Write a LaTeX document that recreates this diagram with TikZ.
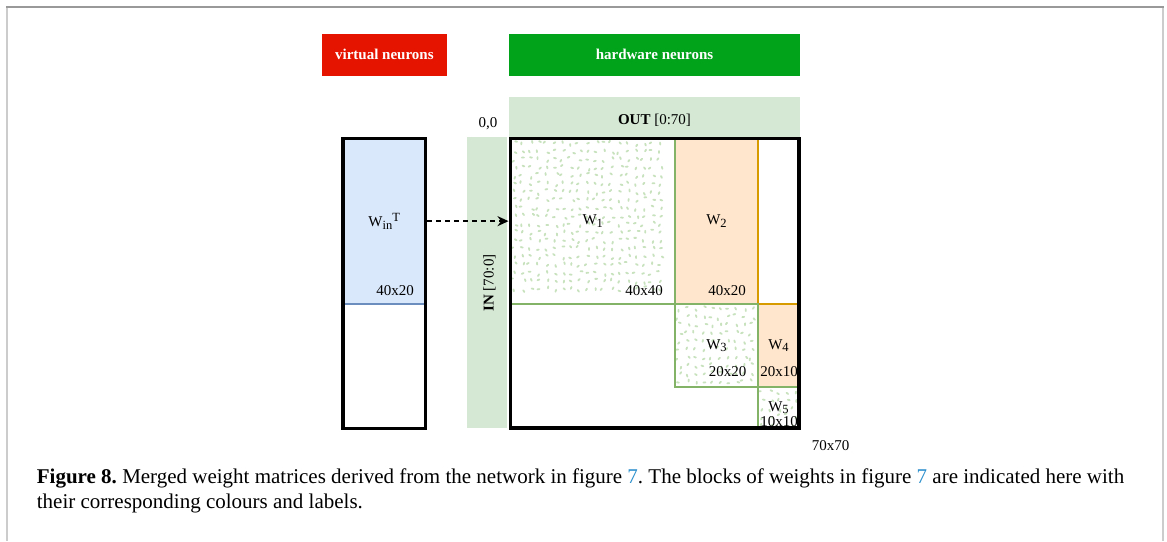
\documentclass[tikz,border=0pt]{standalone}
\usepackage{fontspec}
\setmainfont{Liberation Serif}
\usepackage{xcolor}
\usepackage{tikz}
\usetikzlibrary{arrows.meta,calc,positioning}
\definecolor{virtred}{HTML}{E51400}
\definecolor{hwgreen}{HTML}{00A31A}
\definecolor{bandfill}{HTML}{D5E8D4}
\definecolor{peachfill}{HTML}{FFE6CC}
\definecolor{peachline}{HTML}{D79B00}
\definecolor{blockline}{HTML}{82B366}
\definecolor{infill}{HTML}{DAE8FC}
\definecolor{inline}{HTML}{6C8EBF}
\definecolor{dotcol}{HTML}{C8E2BE}
\definecolor{refblue}{HTML}{2B8FCC}
\definecolor{framegray}{HTML}{999999}
\definecolor{sidegray}{HTML}{CCCCCC}
\tikzset{
  headbox/.style={
    inner sep=0pt, outer sep=0pt, anchor=north west,
    text=white, font=\fontsize{15}{18}\selectfont\bfseries
  },
  band/.style={fill=bandfill, inner sep=0pt, outer sep=0pt, anchor=north west},
  block/.style={inner sep=0pt, outer sep=0pt, anchor=north west,
    font=\fontsize{15}{18}\selectfont},
  matframe/.style={draw=black, line width=3.6pt, inner sep=0pt, outer sep=0pt,
    anchor=north west},
  edgeline/.style={line width=1.8pt},
  dimlabel/.style={font=\fontsize{15}{18}\selectfont, inner sep=0pt},
  dotmark/.style={draw=dotcol, line width=1.8pt, line cap=round},
  feed/.style={line width=1.8pt, dash pattern=on 5pt off 4pt,
    -{Stealth[length=11pt,width=10pt]}},
  capline/.style={font=\fontsize{21}{25}\selectfont\frenchspacing, anchor=base west, inner sep=0pt}
}
% draw.io style sub- and superscripts
\newcommand{\wsub}[1]{\raisebox{-0.4ex}{\fontsize{12.5}{13}\selectfont #1}}
\newcommand{\wsup}[1]{\raisebox{0.75ex}{\fontsize{12.5}{13}\selectfont #1}}
\newcommand{\dotfield}[4]{%
  \foreach \gx in {1,...,#3}{
    \foreach \gy in {1,...,#4}{
      \pgfmathsetmacro{\px}{#1+\gx*8.1-4+rand*2.2}
      \pgfmathsetmacro{\py}{#2+\gy*8.1-4+rand*2.2}
      \pgfmathsetmacro{\pa}{rnd*180}
      \draw[dotmark] (\px,\py) -- ++(\pa:2);
    }
  }
}

\begin{document}
\begin{tikzpicture}[x=1pt,y=-1pt]
\useasboundingbox (0,0) rectangle (1167,541);
\fill[white] (0,0) rectangle (1167,541);
\pgfmathsetseed{42}

% page frame
\draw[sidegray, line width=2pt] (7,7) -- (7,541);
\draw[sidegray, line width=2pt] (1163.3,7) -- (1163.3,541);
\draw[framegray, line width=2pt] (6,7) -- (1164.3,7);

% headers
\node[headbox, fill=virtred, minimum width=125.3pt, minimum height=41.7pt] (virt) at (321.7,34) {virtual neurons};
\node[headbox, fill=hwgreen, minimum width=291pt, minimum height=41.7pt] (hw) at (509,34) {hardware neurons};

% index bands
\node[band, minimum width=291pt, minimum height=40.3pt] (outband) at (509,96.7) {};
\node[dimlabel, anchor=base] (outlbl) at (654.5,124.3) {\textbf{OUT} [0:70]};
\node[band, minimum width=40pt, minimum height=291pt] (inband) at (466.7,137.3) {};
\node[dimlabel, rotate=90] (inlbl) at (489.3,283) {\textbf{IN} [70:0]};
\node[dimlabel] (origin) at (488,124) {0,0};

% virtual matrix
\node[block, fill=infill, minimum width=82.3pt, minimum height=165.7pt] (win) at (343,138.3) {W\wsub{in}\wsup{T}};
\draw[inline, edgeline] (win.south west) -- (win.south east);
\node[dimlabel] (windim) at (395,291) {40x20};
\node[matframe, minimum width=82.3pt, minimum height=290pt] (virtmat) at (343,138.3) {};

% hardware matrix blocks
\dotfield{510.5}{138.5}{19}{19}
\dotfield{675}{304}{10}{10}
\dotfield{758}{387.3}{5}{5}
\node[block, minimum width=164.5pt, minimum height=165.5pt] (w1) at (510.5,138.5) {W\wsub{1}};
\node[block, fill=peachfill, minimum width=83pt, minimum height=165.5pt] (w2) at (675,138.5) {W\wsub{2}};
\node[block, minimum width=83pt, minimum height=83.3pt] (w3) at (675,304) {W\wsub{3}};
\node[block, fill=peachfill, minimum width=41pt, minimum height=83.3pt] (w4) at (758,304) {W\wsub{4}};
\node[block, minimum width=41pt, minimum height=40.7pt] (w5) at (758,387.3) {W\wsub{5}};
\draw[peachline, edgeline] (w2.north east) -- (w2.south east);
\draw[peachline, edgeline] (w4.north west) -- (w4.north east);
\draw[blockline, edgeline] (w1.south west) -- (w1.south east);
\draw[blockline, edgeline] (w1.north east) -- (w1.south east);
\draw[blockline, edgeline] (w3.north west) rectangle (w3.south east);
\draw[blockline, edgeline] (w4.south west) -- (w4.south east);
\draw[blockline, edgeline] (w5.north west) -- (w5.south west);
\node[dimlabel] (w1dim) at (644,290.7) {40x40};
\node[dimlabel] (w2dim) at (727,290.7) {40x20};
\node[dimlabel] (w3dim) at (727.5,372) {20x20};
\node[dimlabel] (w4dim) at (779,372) {20x10};
\node[dimlabel] (w5dim) at (779,421.7) {10x10};
\node[matframe, minimum width=288.5pt, minimum height=289.5pt] (hwmat) at (510.5,138.5) {};
\node[dimlabel] (total) at (830.7,445.7) {70x70};

\draw[feed, shorten <=2pt, shorten >=2pt] (win.east) -- (win.east -| hwmat.west);

% caption
\node[capline] (cap1) at (36.7,483) {\textbf{Figure 8.} Merged weight matrices derived from the network in figure \textcolor{refblue}{7}. The blocks of weights in figure \textcolor{refblue}{7} are indicated here with};
\node[capline] (cap2) at (36.7,508) {their corresponding colours and labels.};

\end{tikzpicture}
\end{document}
